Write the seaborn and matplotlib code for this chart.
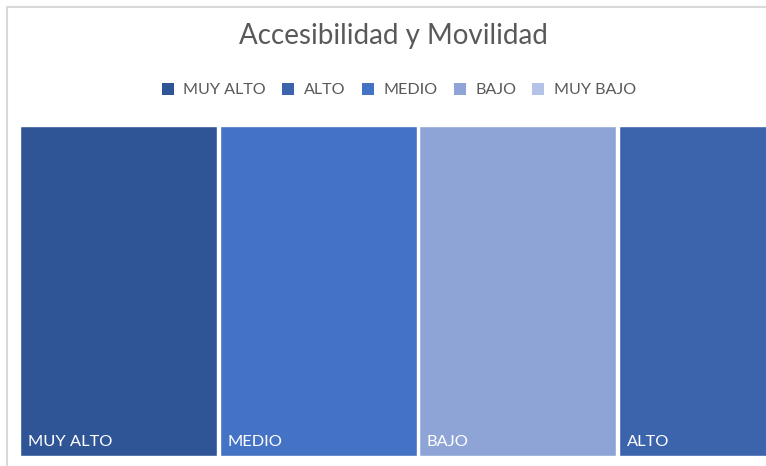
import matplotlib
matplotlib.use("Agg")
import matplotlib.pyplot as plt
from matplotlib.patches import Rectangle, Patch
import seaborn as sns
import pandas as pd

# Data: tiles of the treemap (equal weight each) and the legend levels
tiles = ["MUY ALTO", "MEDIO", "BAJO", "ALTO"]
weights = [1, 1, 1, 1]
levels = ["MUY ALTO", "ALTO", "MEDIO", "BAJO", "MUY BAJO"]
level_colors = ["#2F5597", "#3B64AD", "#4472C4", "#8FA4D6", "#B4C2E7"]
title = "Accesibilidad y Movilidad"

palette = dict(zip(levels, level_colors))
df = pd.DataFrame({"nivel": tiles, "peso": weights})

sns.set_theme(style="white")
plt.rcParams["font.family"] = ["Lato", "DejaVu Sans"]

W, H = 766, 466
fig = plt.figure(figsize=(W / 100, H / 100), dpi=100)
fig.patch.set_facecolor("white")

# outer chart frame
fig.patches.append(Rectangle((7 / W, -0.1), 1.2, 1 - 6.5 / H + 0.1,
                             transform=fig.transFigure, fill=False,
                             edgecolor="#D9D9D9", linewidth=1.5))

pitch = 199.5
left_px, right_px = 20, 766
top_px, bot_px = 126, 456
ax = fig.add_axes([left_px / W, (H - bot_px) / H,
                   (right_px - left_px) / W, (bot_px - top_px) / H])

bw = 197 / pitch
sns.barplot(data=df, x="nivel", y="peso", hue="nivel", palette=palette,
            order=tiles, hue_order=tiles, width=bw, dodge=False,
            legend=False, ax=ax, saturation=1)
x0 = -bw / 2
ax.set_xlim(x0, x0 + (right_px - left_px) / pitch)
ax.set_ylim(0, 1)
ax.axis("off")

for i, name in enumerate(tiles):
    ax.text(i - bw / 2 + 8 / pitch, 0.03, name, color="white",
            fontsize=11.8, ha="left", va="baseline")

fig.text(393 / W, 1 - 36 / H, title, ha="center", va="center",
         fontsize=20, color="#595959")

handles = [Patch(facecolor=c, edgecolor="none", label=l)
           for l, c in zip(levels, level_colors)]
fig.legend(handles=handles, loc="center", bbox_to_anchor=(399 / W, 1 - 90 / H),
           ncol=5, frameon=False, fontsize=11.6, handlelength=0.75,
           handleheight=0.75, handletextpad=0.6, columnspacing=1.0,
           labelcolor="#595959")

fig.savefig("out.png", dpi=100)
